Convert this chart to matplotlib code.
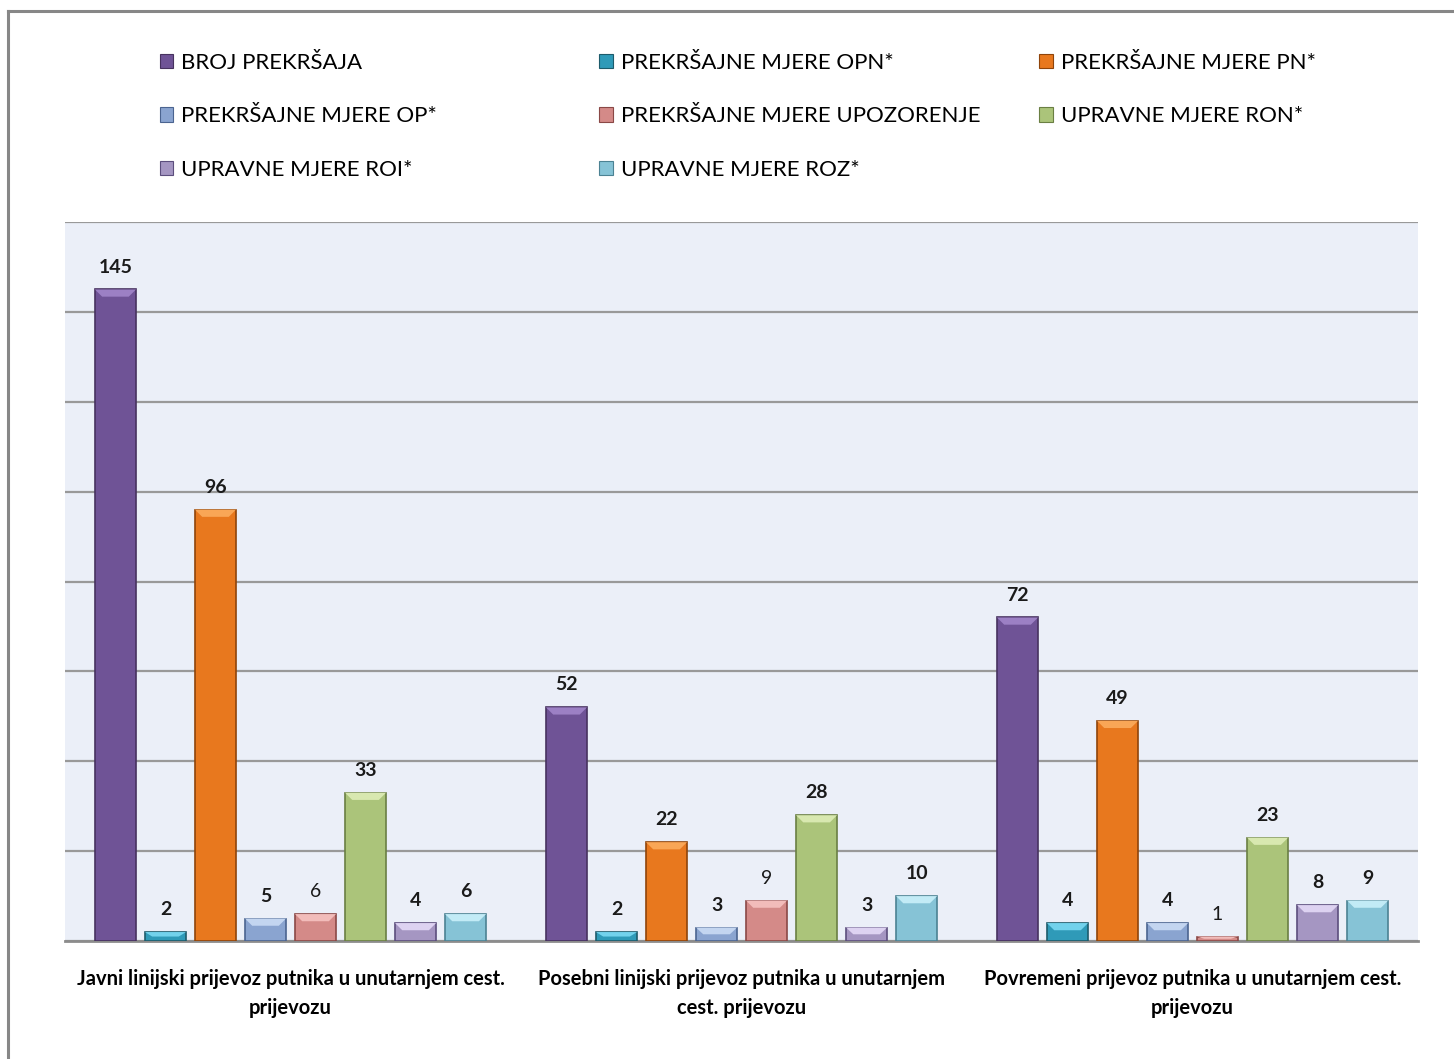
import matplotlib
matplotlib.use('Agg')
import matplotlib.pyplot as plt
from matplotlib.patches import Patch, Polygon
from matplotlib.lines import Line2D
import numpy as np

plt.rcParams['font.family'] = ['Lato', 'DejaVu Sans']

categories = [
    'Javni linijski prijevoz putnika u unutarnjem cest.\nprijevozu',
    'Posebni linijski prijevoz putnika u unutarnjem\ncest. prijevozu',
    'Povremeni prijevoz putnika u unutarnjem cest.\nprijevozu',
]
series = [
    'BROJ PREKRŠAJA',
    'PREKRŠAJNE MJERE OPN*',
    'PREKRŠAJNE MJERE PN*',
    'PREKRŠAJNE MJERE OP*',
    'PREKRŠAJNE MJERE UPOZORENJE',
    'UPRAVNE MJERE RON*',
    'UPRAVNE MJERE ROI*',
    'UPRAVNE MJERE ROZ*',
]
broj = [145, 52, 72]
opn = [2, 2, 4]
pn = [96, 22, 49]
op = [5, 3, 4]
upozorenje = [6, 9, 1]
ron = [33, 28, 23]
roi = [4, 3, 8]
roz = [6, 10, 9]
values = [broj, opn, pn, op, upozorenje, ron, roi, roz]

# (main, highlight, edge)
colors = [
    ('#6f5396', '#9c80c4', '#47325f'),
    ('#2f9ab8', '#72d2ec', '#1d5b6b'),
    ('#e8781e', '#f9a656', '#8f440a'),
    ('#8aa4d0', '#c3d5f0', '#4b6490'),
    ('#d48a88', '#f2bcba', '#8a4846'),
    ('#abc47a', '#d8e8b0', '#6a7f43'),
    ('#a596c2', '#ddd2f1', '#5c4e7d'),
    ('#86c3d6', '#c2ebf6', '#4c8293'),
]
bold_labels = [True, True, True, True, False, True, True, True]

fig = plt.figure(figsize=(14.54, 10.59), dpi=100)
ax = fig.add_axes([0.0447, 0.1114, 0.9306, 0.6789])
ax.set_facecolor('#ebeff8')

x = np.arange(len(categories))
pitch = 0.1109
width = 0.091
n = len(series)
bev_x = 0.016
bev_y = 1.6

for i, (vals, (c, hl, ec)) in enumerate(zip(values, colors)):
    xs = x + (i - (n - 1) / 2) * pitch
    ax.bar(xs, vals, width, color=c, edgecolor=ec, linewidth=1.2, zorder=3)
    for xc, v in zip(xs, vals):
        by = min(bev_y, v / 2)
        l, r = xc - width / 2, xc + width / 2
        ax.add_patch(Polygon([(l, v), (r, v), (r - bev_x, v - by), (l + bev_x, v - by)],
                             closed=True, facecolor=hl, edgecolor='none', zorder=4))
        ax.annotate(str(v), (xc, v), xytext=(0, 10), textcoords='offset points',
                    ha='center', va='bottom', fontsize=14,
                    fontweight='bold' if bold_labels[i] else 'normal', color='#1a1a1a')

ax.set_xlim(-0.5, 2.5)
ax.set_ylim(0, 160)
ax.set_yticks(np.arange(0, 161, 20))
ax.yaxis.grid(True, color='#999999', linewidth=1.6, zorder=0)
ax.set_axisbelow(True)
ax.tick_params(axis='y', left=False, labelleft=False)
ax.set_xticks(x)
ax.set_xticklabels(categories, fontsize=14.5, fontweight='bold', linespacing=1.55)
ax.tick_params(axis='x', length=0, pad=20)
for s in ['left', 'right', 'top']:
    ax.spines[s].set_visible(False)
ax.spines['bottom'].set_color('#8c8c8c')
ax.spines['bottom'].set_linewidth(2)

handles = [Patch(facecolor=c, edgecolor=ec, linewidth=0.8) for c, _, ec in colors]
col_x = [0.1097, 0.4122, 0.7147]
for k, idx in enumerate([[0, 3, 6], [1, 4, 7], [2, 5]]):
    leg = fig.legend([handles[j] for j in idx], [series[j] for j in idx],
                     loc='upper left', bbox_to_anchor=(col_x[k], 0.95),
                     frameon=False, fontsize=16, handlelength=0.62, handleheight=0.62,
                     handletextpad=0.35, labelspacing=1.5, borderaxespad=0, borderpad=0)

# outer chart border
fig.add_artist(Line2D([0.0058, 0.0058], [0.0, 0.9895], color='#878787', linewidth=2.2))
fig.add_artist(Line2D([0.0058, 1.0], [0.9895, 0.9895], color='#878787', linewidth=2.2))

fig.savefig('out.png', dpi=100)
